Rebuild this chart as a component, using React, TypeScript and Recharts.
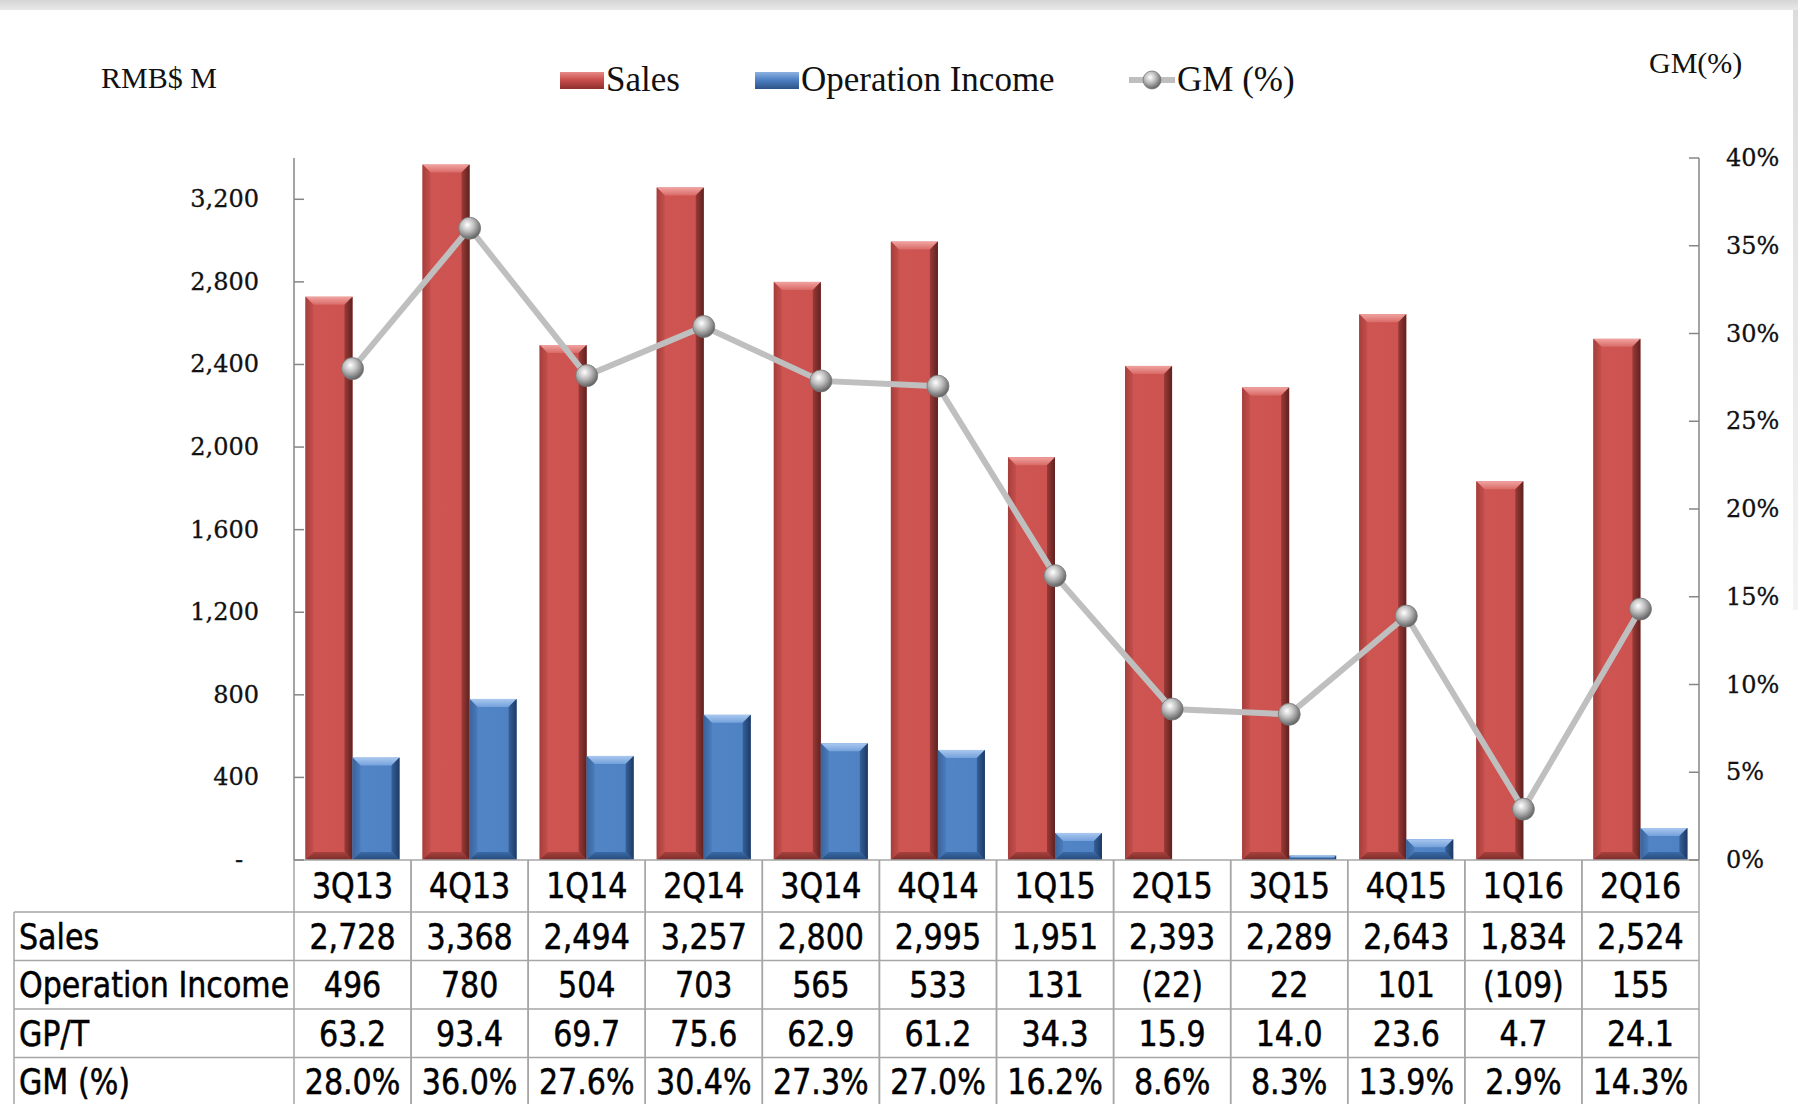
import { ComposedChart, Bar, Line, XAxis, YAxis } from 'recharts';

const quarters = ['3Q13', '4Q13', '1Q14', '2Q14', '3Q14', '4Q14', '1Q15', '2Q15', '3Q15', '4Q15', '1Q16', '2Q16'];
const sales = [2728, 3368, 2494, 3257, 2800, 2995, 1951, 2393, 2289, 2643, 1834, 2524];
const opIncome = [496, 780, 504, 703, 565, 533, 131, -22, 22, 101, -109, 155];
const gpPerTon = [63.2, 93.4, 69.7, 75.6, 62.9, 61.2, 34.3, 15.9, 14.0, 23.6, 4.7, 24.1];
const gmPct = [28.0, 36.0, 27.6, 30.4, 27.3, 27.0, 16.2, 8.6, 8.3, 13.9, 2.9, 14.3];
const salesTicks = [0, 400, 800, 1200, 1600, 2000, 2400, 2800, 3200];
const gmTicks = [0, 5, 10, 15, 20, 25, 30, 35, 40];

const data = quarters.map((q, i) => ({ q, sales: sales[i], oi: opIncome[i], gm: gmPct[i] }));

const fmtInt = (v: number) => v.toLocaleString('en-US');
const fmtParen = (v: number) => (v < 0 ? `(${fmtInt(-v)})` : fmtInt(v));

const tableRows = [
    { label: 'Sales', cells: sales.map(fmtInt) },
    { label: 'Operation Income', cells: opIncome.map(fmtParen) },
    { label: 'GP/T', cells: gpPerTon.map((v) => v.toFixed(1)) },
    { label: 'GM (%)', cells: gmPct.map((v) => v.toFixed(1) + '%') },
];

const W = 1798;
const H = 1104;
const GRID = '#a6a6a6';
const AXIS = '#868686';
const SERIF = '"Liberation Serif", "Times New Roman", serif';
const TICKFONT = '"DejaVu Serif", serif';
const TABLEFONT = '"Liberation Sans Narrow", "Arial Narrow", "DejaVu Sans Condensed", sans-serif';

// table geometry (below the plot)
const HEADER_H = 52;
const ROW_H = 48.5;
const TABLE_LEFT = 14;

function BevelBar(props: any) {
    const { x, y, width, height, payload, kind } = props;
    if (kind === 'oi' && payload && payload.oi < 0) return null;
    if (!height || height <= 0) return null;
    const b = Math.min(8, height / 2, width / 4);
    const r = x + width;
    const bt = y + height;
    return (
        <g>
            <rect x={x} y={y} width={width} height={height} fill={`url(#${kind}Body)`} />
            <polygon points={`${x},${y} ${r},${y} ${r - b},${y + b} ${x + b},${y + b}`} fill={`url(#${kind}Top)`} />
            <polygon points={`${x},${y} ${x + b},${y + b} ${x + b},${bt - b} ${x},${bt}`} fill={`url(#${kind}Left)`} />
            <polygon points={`${r},${y} ${r},${bt} ${r - b},${bt - b} ${r - b},${y + b}`} fill={`url(#${kind}Right)`} />
            <polygon points={`${x},${bt} ${r},${bt} ${r - b},${bt - b} ${x + b},${bt - b}`} fill={`url(#${kind}Bottom)`} />
        </g>
    );
}

function Sphere({ cx, cy, r = 11 }: any) {
    if (cx == null || cy == null) return null;
    return <circle cx={cx} cy={cy} r={r} fill="url(#sphere)" stroke="#777" strokeWidth={0.8} />;
}

function LeftTick({ x, y, payload }: any) {
    const v = payload.value;
    return (
        <g>
            <line x1={x} x2={x + 10} y1={y} y2={y} stroke={AXIS} strokeWidth={1.5} />
            <text x={v === 0 ? x - 51 : x - 35} y={y} textAnchor="end" dominantBaseline="central"
                fontFamily={TICKFONT} fontSize={24} fill="#111" stroke="#111" strokeWidth={0.3}>
                {v === 0 ? '-' : fmtInt(v)}
            </text>
        </g>
    );
}

function RightTick({ x, y, payload }: any) {
    return (
        <g>
            <line x1={x - 10} x2={x} y1={y} y2={y} stroke={AXIS} strokeWidth={1.5} />
            <text x={x + 27} y={y} textAnchor="start" dominantBaseline="central"
                fontFamily={TICKFONT} fontSize={24} fill="#111" stroke="#111" strokeWidth={0.3}>
                {payload.value}%
            </text>
        </g>
    );
}

// condensed table text
function Cell({ x, y, anchor, children }: any) {
    return (
        <text transform={`translate(${x},${y}) scale(0.93,1)`} textAnchor={anchor} dominantBaseline="central"
            fontFamily={TABLEFONT} fontSize={36} fill="#000" stroke="#000" strokeWidth={0.5}>
            {children}
        </text>
    );
}

function TableTick({ x, y, payload, index }: any) {
    const half = payload && payload.offset > 0 ? payload.offset : 58.5;
    const l = x - half;
    const r = x + half;
    const rowTops = tableRows.map((_, i) => y + HEADER_H + i * ROW_H);
    const bottom = y + HEADER_H + tableRows.length * ROW_H + 4;
    return (
        <g>
            <line x1={l} x2={l} y1={y} y2={bottom} stroke={GRID} strokeWidth={1.5} />
            <line x1={r} x2={r} y1={y} y2={bottom} stroke={GRID} strokeWidth={1.5} />
            <Cell x={x} y={y + HEADER_H / 2} anchor="middle">{payload.value}</Cell>
            {tableRows.map((row, i) => (
                <g key={row.label}>
                    <line x1={index === 0 ? TABLE_LEFT : l} x2={r} y1={rowTops[i]} y2={rowTops[i]} stroke={GRID} strokeWidth={1.5} />
                    <Cell x={x} y={rowTops[i] + ROW_H / 2} anchor="middle">{row.cells[index]}</Cell>
                    {index === 0 && (
                        <Cell x={TABLE_LEFT + 5} y={rowTops[i] + ROW_H / 2} anchor="start">{row.label}</Cell>
                    )}
                </g>
            ))}
            {index === 0 && (
                <line x1={TABLE_LEFT} x2={TABLE_LEFT} y1={rowTops[0]} y2={bottom} stroke={GRID} strokeWidth={1.5} />
            )}
        </g>
    );
}

function Grad({ id, stops, vertical }: { id: string; stops: [string, string][]; vertical?: boolean }) {
    return (
        <linearGradient id={id} x1="0" y1="0" x2={vertical ? '0' : '1'} y2={vertical ? '1' : '0'}>
            {stops.map(([o, c]) => <stop key={o} offset={o} stopColor={c} />)}
        </linearGradient>
    );
}

function Legend() {
    const item = { position: 'absolute' as const, fontFamily: SERIF, fontSize: 35, color: '#111', lineHeight: '40px', top: 60, whiteSpace: 'nowrap' as const };
    return (
        <>
            <div style={{ ...item, left: 101, top: 58, fontSize: 30 }}>RMB$ M</div>
            <div style={{ ...item, left: 1649, top: 43, fontSize: 30 }}>GM(%)</div>
            <div style={{ position: 'absolute', left: 560, top: 72, width: 44, height: 17, background: 'linear-gradient(#e88a87, #c9504d 45%, #8e2f2d)' }} />
            <div style={{ ...item, left: 606 }}>Sales</div>
            <div style={{ position: 'absolute', left: 755, top: 72, width: 44, height: 17, background: 'linear-gradient(#8db3e2, #4f81c4 45%, #2d5286)' }} />
            <div style={{ ...item, left: 801 }}>Operation Income</div>
            <svg style={{ position: 'absolute', left: 1126, top: 66 }} width={52} height={28}>
                <line x1={3} x2={49} y1={14} y2={14} stroke="#bfbfbf" strokeWidth={6} />
                <circle cx={26} cy={14} r={9} fill="url(#sphereL)" stroke="#777" strokeWidth={0.8} />
                <defs>
                    <radialGradient id="sphereL" cx="0.4" cy="0.35" r="0.65">
                        <stop offset="0" stopColor="#ffffff" />
                        <stop offset="0.45" stopColor="#c0c0c0" />
                        <stop offset="1" stopColor="#636363" />
                    </radialGradient>
                </defs>
            </svg>
            <div style={{ ...item, left: 1177 }}>GM (%)</div>
        </>
    );
}

export default function App() {
    return (
        <div style={{ position: 'absolute', left: 0, top: 0, width: W, height: H, overflow: 'hidden', background: '#fff' }}>
            <div style={{ position: 'absolute', left: 0, top: 0, width: W, height: 10, background: 'linear-gradient(#d6d6d6, #e8e8e8)' }} />
            <div style={{ position: 'absolute', right: 0, top: 10, width: 5, height: 600, background: 'linear-gradient(#dcdcdc, #f4f4f4)' }} />
            <ComposedChart width={W} height={H} data={data}
                margin={{ top: 158, right: 0, bottom: 0, left: 194 }}
                barCategoryGap="9.8%" barGap={0}>
                <defs>
                    <Grad id="salesBody" stops={[['0', '#b94643'], ['0.15', '#cf5552'], ['0.85', '#cc5350'], ['1', '#a9403d']]} />
                    <Grad id="salesTop" vertical stops={[['0', '#f0a3a0'], ['1', '#d96a67']]} />
                    <Grad id="salesLeft" stops={[['0', '#a63e3b'], ['1', '#c44f4c']]} />
                    <Grad id="salesRight" stops={[['0', '#9a3a37'], ['1', '#5e2220']]} />
                    <Grad id="salesBottom" vertical stops={[['0', '#a8413e'], ['1', '#7a2c2a']]} />
                    <Grad id="oiBody" stops={[['0', '#3f6ca8'], ['0.15', '#5285c6'], ['0.85', '#4f82c3'], ['1', '#3a66a0']]} />
                    <Grad id="oiTop" vertical stops={[['0', '#a9c8ef'], ['1', '#74a1db']]} />
                    <Grad id="oiLeft" stops={[['0', '#3a649c'], ['1', '#4a7bbb']]} />
                    <Grad id="oiRight" stops={[['0', '#35609a'], ['1', '#1d3a63']]} />
                    <Grad id="oiBottom" vertical stops={[['0', '#3a6aa6'], ['1', '#264a7a']]} />
                    <radialGradient id="sphere" cx="0.4" cy="0.35" r="0.65">
                        <stop offset="0" stopColor="#ffffff" />
                        <stop offset="0.45" stopColor="#c0c0c0" />
                        <stop offset="1" stopColor="#636363" />
                    </radialGradient>
                </defs>
                <XAxis dataKey="q" interval={0} height={244} tickSize={0} tickMargin={0}
                    axisLine={{ stroke: GRID, strokeWidth: 1.5 }} tickLine={false} tick={<TableTick />} />
                <YAxis yAxisId="left" width={100} domain={[0, 3400]} ticks={salesTicks} allowDataOverflow
                    tickSize={0} tickMargin={0} tickLine={false} axisLine={{ stroke: AXIS, strokeWidth: 1.5 }} tick={<LeftTick />} />
                <YAxis yAxisId="right" orientation="right" width={99} domain={[0, 40]} ticks={gmTicks} allowDataOverflow
                    tickSize={0} tickMargin={0} tickLine={false} axisLine={{ stroke: AXIS, strokeWidth: 1.5 }} tick={<RightTick />} />
                <Bar yAxisId="left" dataKey="sales" name="Sales" fill="#cd5350" isAnimationActive={false}
                    shape={(p: any) => <BevelBar {...p} kind="sales" />} />
                <Bar yAxisId="left" dataKey="oi" name="Operation Income" fill="#4f81c4" isAnimationActive={false}
                    shape={(p: any) => <BevelBar {...p} kind="oi" />} />
                <Line yAxisId="right" dataKey="gm" name="GM (%)" stroke="#bfbfbf" strokeWidth={6} isAnimationActive={false}
                    dot={(p: any) => <Sphere key={p.index} cx={p.cx} cy={p.cy} />} activeDot={false} />
            </ComposedChart>
            <Legend />
        </div>
    );
}
